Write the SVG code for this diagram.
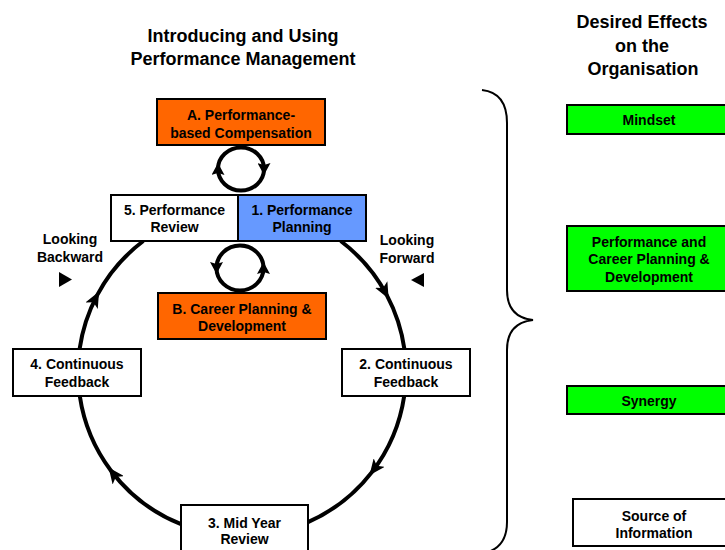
<svg xmlns="http://www.w3.org/2000/svg" width="725" height="550" viewBox="0 0 725 550">
<style>
  text { font-family: "Liberation Sans", Arial, Helvetica, sans-serif; font-weight: bold; fill: #000; text-anchor: middle; }
  .title { font-size: 18px; }
  .lbl { font-size: 14px; }
  .box { stroke: #000; stroke-width: 2; }
  .white { fill: #fff; }
  .orange { fill: #FF6600; }
  .blue { fill: #6699FF; }
  .green { fill: #00FF00; }
  .ring { fill: none; stroke: #000; stroke-width: 4; }
  .brace { fill: none; stroke: #000; stroke-width: 2; }
</style>
<defs>
  <marker id="arrowBig" viewBox="0 0 16 14" refX="12" refY="7" markerWidth="16" markerHeight="14" markerUnits="userSpaceOnUse" orient="auto">
    <path d="M0,0 L16,7 L0,14 L4,7 Z" fill="#000"/>
  </marker>
  <marker id="arrowSmall" viewBox="0 0 12 13" refX="6" refY="6.5" markerWidth="12" markerHeight="13" markerUnits="userSpaceOnUse" orient="auto">
    <path d="M0,0 L12,6.5 L0,13 L2,6.5 Z" fill="#000"/>
  </marker>
</defs>

<rect width="725" height="550" fill="#fff"/>

<!-- Titles -->
<text class="title" x="243" y="41.5">Introducing and Using</text>
<text class="title" x="243" y="64.5">Performance Management</text>
<text class="title" x="642" y="28">Desired Effects</text>
<text class="title" x="642" y="51.5">on the</text>
<text class="title" x="643" y="75">Organisation</text>

<!-- Connectors -->
<g id="connectors">
  <path class="ring" marker-mid="url(#arrowBig)" d="M340.7,241 A164,164 0 0 1 386.8,295.1 A164,164 0 0 1 404.4,349"/>
  <path class="ring" marker-mid="url(#arrowBig)" d="M404.2,396 A164,164 0 0 1 371.9,472.1 A164,164 0 0 1 308,522.1"/>
  <path class="ring" marker-mid="url(#arrowBig)" d="M181,524.2 A164,164 0 0 1 111,470.7 A164,164 0 0 1 79.8,396"/>
  <path class="ring" marker-mid="url(#arrowBig)" d="M79.6,349 A164,164 0 0 1 97.2,295.1 A164,164 0 0 1 143.3,241"/>
  <!-- top small loop (clockwise) -->
  <path class="ring" marker-mid="url(#arrowSmall)" d="M241,147.5 A23,21.5 0 0 1 264,169 A23,21.5 0 0 1 218,169 A23,21.5 0 0 1 241,147.5"/>
  <!-- bottom small loop (counter-clockwise) -->
  <path class="ring" marker-mid="url(#arrowSmall)" d="M240,245.5 A23.5,22.5 0 0 0 216.5,268 A23.5,22.5 0 0 0 263.5,268 A23.5,22.5 0 0 0 240,245.5"/>
  <!-- brace -->
  <path class="brace" d="M482,90 C500,92 507,105 507,123 L507,290 C507,308 515,318 533,320 C515,322 507,332 507,350 L507,522 C507,538 500,548 488,552"/>
</g>

<!-- Left diagram nodes -->
<g id="nodeA">
  <rect class="box orange" x="157" y="99" width="168" height="46"/>
  <text class="lbl" x="241" y="120">A. Performance-</text>
  <text class="lbl" x="241" y="137.5">based Compensation</text>
</g>
<g id="node5">
  <rect class="box white" x="111" y="195" width="127" height="46"/>
  <text class="lbl" x="174.5" y="214.5">5. Performance</text>
  <text class="lbl" x="174.5" y="231.5">Review</text>
</g>
<g id="node1">
  <rect class="box blue" x="238" y="195" width="128" height="46"/>
  <text class="lbl" x="302" y="214.5">1. Performance</text>
  <text class="lbl" x="302" y="231.5">Planning</text>
</g>
<g id="nodeB">
  <rect class="box orange" x="158" y="293" width="168" height="46"/>
  <text class="lbl" x="242" y="314">B. Career Planning &amp;</text>
  <text class="lbl" x="242" y="331">Development</text>
</g>
<g id="node4">
  <rect class="box white" x="13" y="349" width="128" height="47"/>
  <text class="lbl" x="77" y="369">4. Continuous</text>
  <text class="lbl" x="77" y="386.5">Feedback</text>
</g>
<g id="node2">
  <rect class="box white" x="342" y="349" width="128" height="47"/>
  <text class="lbl" x="406" y="369">2. Continuous</text>
  <text class="lbl" x="406" y="386.5">Feedback</text>
</g>
<g id="node3">
  <rect class="box white" x="181" y="505" width="127" height="50"/>
  <text class="lbl" x="244.5" y="528">3. Mid Year</text>
  <text class="lbl" x="244.5" y="544">Review</text>
</g>

<!-- Looking labels -->
<g id="lookingBackward">
  <text class="lbl" x="70" y="244">Looking</text>
  <text class="lbl" x="70" y="262">Backward</text>
  <polygon points="59,272 59,287 72,279.5" fill="#000"/>
</g>
<g id="lookingForward">
  <text class="lbl" x="407" y="245">Looking</text>
  <text class="lbl" x="407" y="263">Forward</text>
  <polygon points="424,273 424,287 411,280" fill="#000"/>
</g>

<!-- Right column -->
<g id="mindset">
  <rect class="box green" x="567" y="105" width="164" height="29"/>
  <text class="lbl" x="649" y="125">Mindset</text>
</g>
<g id="perfCareer">
  <rect class="box green" x="567" y="226" width="164" height="65"/>
  <text class="lbl" x="649" y="246.5">Performance and</text>
  <text class="lbl" x="649" y="264">Career Planning &amp;</text>
  <text class="lbl" x="649" y="281.5">Development</text>
</g>
<g id="synergy">
  <rect class="box green" x="567" y="386" width="164" height="28"/>
  <text class="lbl" x="649" y="405.5">Synergy</text>
</g>
<g id="source">
  <rect class="box white" x="573" y="499" width="162" height="47"/>
  <text class="lbl" x="654" y="520.5">Source of</text>
  <text class="lbl" x="654" y="538">Information</text>
</g>
</svg>
